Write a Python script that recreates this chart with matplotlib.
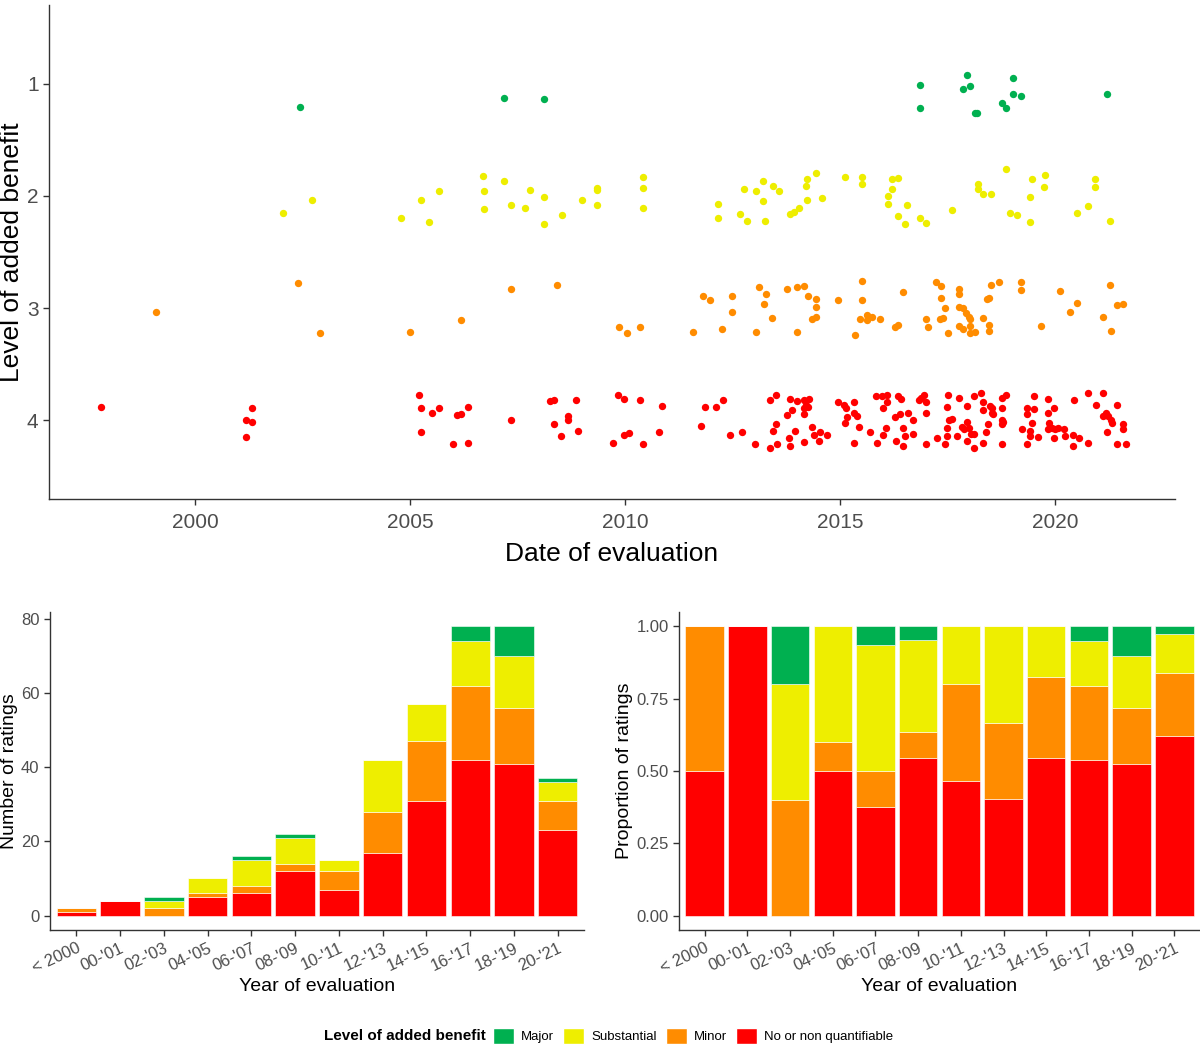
import matplotlib
matplotlib.use('Agg')
import matplotlib.pyplot as plt
from matplotlib.patches import Patch
import numpy as np

plt.rcParams['font.family'] = ['Liberation Sans', 'DejaVu Sans']

level_names = ['Major', 'Substantial', 'Minor', 'No or non quantifiable']
level_colors = ['#00B050', '#EEEE00', '#FF8C00', '#FF0000']

# top panel: date of evaluation (decimal year) and jittered level
green_dates = [2002.43, 2007.19, 2008.12, 2016.85, 2016.85, 2017.95, 2018.01, 2017.85, 2018.12, 2018.18,
               2019.01, 2019.01, 2019.20, 2018.75, 2018.85, 2021.20]
green_levels = [1.21, 1.13, 1.14, 1.01, 1.22, 0.92, 1.02, 1.05, 1.26, 1.26,
                0.95, 1.09, 1.11, 1.17, 1.22, 1.09]

yellow_dates = [2002.03, 2002.71, 2004.78, 2005.25, 2005.44, 2005.66, 2006.68, 2006.72, 2006.72, 2007.19,
                2007.34, 2007.66, 2007.78, 2008.10, 2008.10, 2008.53, 2009.00, 2009.34, 2009.34, 2009.34,
                2010.40, 2010.40, 2010.40, 2012.16, 2012.16, 2012.67, 2012.76, 2012.82, 2013.04, 2013.19,
                2013.19, 2013.25, 2013.44, 2013.57, 2013.82, 2013.91, 2014.04, 2014.19, 2014.23, 2014.23,
                2014.44, 2014.57, 2015.10, 2015.51, 2015.51, 2016.10, 2016.10, 2016.19, 2016.19, 2016.35,
                2016.35, 2016.51, 2016.54, 2016.85, 2017.00, 2017.60, 2018.19, 2018.19, 2018.32, 2018.51,
                2018.85, 2018.94, 2019.10, 2019.41, 2019.45, 2019.41, 2019.73, 2019.76, 2020.51, 2020.76,
                2020.92, 2020.92, 2021.26]
yellow_levels = [2.15, 2.04, 2.20, 2.04, 2.23, 1.96, 1.82, 1.96, 2.12, 1.87,
                 2.08, 2.11, 1.95, 2.01, 2.25, 2.17, 2.04, 1.93, 1.95, 2.08,
                 1.83, 1.93, 2.11, 2.07, 2.20, 2.16, 1.94, 2.22, 1.96, 1.87,
                 2.05, 2.22, 1.91, 1.96, 2.16, 2.14, 2.11, 1.91, 1.85, 2.04,
                 1.80, 2.02, 1.83, 1.83, 1.89, 2.00, 2.07, 1.85, 1.94, 1.84,
                 2.18, 2.25, 2.08, 2.20, 2.24, 2.13, 1.89, 1.94, 1.98, 1.98,
                 1.76, 2.15, 2.17, 2.01, 1.85, 2.23, 1.92, 1.81, 2.15, 2.09,
                 1.85, 1.92, 2.22]

orange_dates = [1999.09, 2002.40, 2002.90, 2005.00, 2006.19, 2007.34, 2008.41, 2009.85, 2010.03, 2010.34,
                2011.57, 2011.81, 2011.98, 2012.25, 2012.47, 2012.47, 2013.04, 2013.10, 2013.22, 2013.28,
                2013.41, 2013.75, 2013.98, 2013.98, 2014.16, 2014.25, 2014.44, 2014.44, 2014.44, 2014.35,
                2014.94, 2015.51, 2015.51, 2015.35, 2015.45, 2015.61, 2015.61, 2015.74, 2015.92, 2016.45,
                2016.26, 2016.35, 2017.00, 2017.04, 2017.22, 2017.35, 2017.35, 2017.44, 2017.31, 2017.39,
                2017.50, 2017.76, 2017.76, 2017.76, 2017.86, 2017.92, 2017.98, 2018.01, 2017.76, 2017.86,
                2018.01, 2018.01, 2018.13, 2018.32, 2018.41, 2018.46, 2018.45, 2018.45, 2018.51, 2018.69,
                2019.20, 2019.20, 2019.67, 2020.10, 2020.35, 2020.51, 2021.10, 2021.26, 2021.29, 2021.44,
                2021.57]
orange_levels = [3.03, 2.78, 3.22, 3.21, 3.11, 2.83, 2.79, 3.17, 3.22, 3.17,
                 3.21, 2.89, 2.93, 3.19, 2.89, 3.03, 3.21, 2.81, 2.96, 2.87,
                 3.09, 2.83, 2.81, 3.21, 2.80, 2.89, 2.92, 2.99, 3.08, 3.10,
                 2.93, 2.76, 2.93, 3.24, 3.10, 3.06, 3.11, 3.08, 3.10, 2.86,
                 3.17, 3.15, 3.10, 3.17, 2.77, 2.80, 2.91, 3.00, 3.10, 3.09,
                 3.22, 2.83, 2.87, 2.99, 3.00, 3.04, 3.08, 3.10, 3.16, 3.19,
                 3.16, 3.22, 3.21, 3.09, 2.92, 2.91, 3.15, 3.20, 2.79, 2.77,
                 2.77, 2.84, 3.16, 2.85, 3.03, 2.95, 3.08, 2.79, 3.20, 2.97,
                 2.96]

red_dates = [1997.81, 2001.19, 2001.31, 2001.31, 2001.19, 2005.21, 2005.25, 2005.25, 2005.50, 2005.66,
             2006.00, 2006.09, 2006.19, 2006.34, 2006.34, 2007.34, 2008.25, 2008.35, 2008.85, 2008.34,
             2008.66, 2008.66, 2008.51, 2008.91, 2009.84, 2009.97, 2010.35, 2010.85, 2009.97, 2010.09,
             2009.72, 2010.41, 2010.78, 2011.75, 2011.85, 2012.10, 2012.26, 2012.44, 2012.72, 2013.01,
             2013.37, 2013.50, 2013.37, 2013.44, 2013.50, 2013.53, 2013.75, 2013.87, 2013.84, 2013.81,
             2013.84, 2013.94, 2014.00, 2014.16, 2014.28, 2014.19, 2014.25, 2014.16, 2014.16, 2014.16,
             2014.35, 2014.38, 2014.50, 2014.53, 2014.69, 2014.94, 2015.09, 2015.12, 2015.32, 2015.32,
             2015.38, 2015.16, 2015.10, 2015.44, 2015.32, 2015.69, 2015.85, 2015.83, 2015.96, 2016.08,
             2016.33, 2016.00, 2016.09, 2016.27, 2016.06, 2016.00, 2016.30, 2016.42, 2016.38, 2016.45,
             2016.51, 2016.45, 2016.57, 2016.70, 2016.70, 2016.82, 2016.88, 2016.94, 2017.00, 2017.00,
             2017.00, 2017.25, 2017.44, 2017.47, 2017.47, 2017.50, 2017.47, 2017.53, 2017.60, 2017.70,
             2017.76, 2017.82, 2017.88, 2017.94, 2018.00, 2018.03, 2017.94, 2018.10, 2017.94, 2018.10,
             2018.10, 2018.28, 2018.32, 2018.32, 2018.47, 2018.53, 2018.53, 2018.56, 2018.44, 2018.38,
             2018.32, 2018.75, 2018.85, 2018.75, 2018.75, 2018.79, 2018.75, 2018.75, 2019.23, 2019.35,
             2019.35, 2019.51, 2019.51, 2019.45, 2019.41, 2019.41, 2019.35, 2019.60, 2019.82, 2019.82,
             2019.97, 2019.85, 2019.82, 2019.91, 2020.00, 2020.06, 2019.97, 2020.19, 2020.22, 2020.41,
             2020.54, 2020.41, 2020.44, 2020.76, 2020.76, 2020.95, 2021.10, 2021.17, 2021.10, 2021.23,
             2021.29, 2021.32, 2021.20, 2021.44, 2021.57, 2021.57, 2021.44, 2021.63]
red_levels = [3.88, 4.00, 4.01, 3.89, 4.15, 3.77, 3.89, 4.10, 3.93, 3.89,
              4.21, 3.95, 3.94, 3.88, 4.20, 4.00, 3.83, 3.82, 3.82, 4.03,
              3.96, 4.00, 4.14, 4.09, 3.77, 3.81, 3.82, 3.87, 4.13, 4.11,
              4.20, 4.21, 4.10, 4.05, 3.88, 3.88, 3.82, 4.13, 4.10, 4.21,
              3.82, 3.77, 4.25, 4.09, 4.03, 4.21, 3.95, 3.91, 3.81, 4.16,
              4.23, 4.09, 3.83, 3.82, 3.81, 3.86, 3.88, 3.89, 3.94, 4.19,
              4.06, 4.13, 4.18, 4.10, 4.13, 3.84, 3.86, 3.89, 3.84, 3.93,
              3.96, 3.97, 4.02, 4.06, 4.20, 4.10, 4.20, 3.78, 3.78, 3.77,
              3.78, 3.89, 3.84, 3.97, 4.07, 4.13, 4.18, 3.81, 3.94, 4.07,
              4.14, 4.23, 3.93, 4.00, 4.12, 3.82, 3.80, 3.77, 3.84, 3.93,
              4.21, 4.16, 4.21, 4.14, 4.07, 3.77, 3.88, 4.00, 3.99, 4.14,
              3.80, 4.06, 4.08, 4.01, 4.07, 4.12, 4.18, 4.12, 3.87, 3.78,
              4.25, 3.76, 3.84, 3.91, 3.87, 3.89, 3.93, 3.94, 4.03, 4.10,
              4.20, 3.80, 3.77, 3.89, 4.00, 4.01, 4.03, 4.21, 4.08, 3.89,
              3.94, 3.78, 3.90, 4.02, 4.09, 4.14, 4.21, 4.15, 3.81, 3.93,
              3.89, 4.02, 4.08, 4.07, 4.08, 4.07, 4.16, 4.08, 4.14, 4.13,
              4.16, 4.23, 3.82, 3.76, 4.20, 3.86, 3.76, 3.93, 3.96, 3.96,
              4.00, 4.02, 4.10, 3.86, 4.03, 4.08, 4.21, 4.21]

# bottom panels: number of ratings per two-year period
year_groups = ["< 2000", "00-'01", "02-'03", "04-'05", "06-'07", "08-'09",
               "10-'11", "12-'13", "14-'15", "16-'17", "18-'19", "20-'21"]
count_red = [1, 4, 0, 5, 6, 12, 7, 17, 31, 42, 41, 23]
count_orange = [1, 0, 2, 1, 2, 2, 5, 11, 16, 20, 15, 8]
count_yellow = [0, 0, 2, 4, 7, 7, 3, 14, 10, 12, 14, 5]
count_green = [0, 0, 1, 0, 1, 1, 0, 0, 0, 4, 8, 1]

axis_col = '#333333'
text_col = '#4D4D4D'


def style_axes(ax, size):
    for s in ['top', 'right']:
        ax.spines[s].set_visible(False)
    for s in ['left', 'bottom']:
        ax.spines[s].set_color(axis_col)
        ax.spines[s].set_linewidth(1.0)
    ax.tick_params(colors=axis_col, labelcolor=text_col, labelsize=size, length=4, width=1)


fig = plt.figure(figsize=(12, 10.5), dpi=100)

# ---- top scatter
ax = fig.add_axes([49 / 1200, 1 - 499 / 1050, 1126 / 1200, 494 / 1050])
scatter_sets = [(green_dates, green_levels), (yellow_dates, yellow_levels),
                (orange_dates, orange_levels), (red_dates, red_levels)]
for (d, l), c in zip(scatter_sets, level_colors):
    ax.scatter(d, l, s=28, color=c, linewidths=0, zorder=3)
ax.set_xlim(1996.6, 2022.78)
ax.set_ylim(4.7, 0.3)
ax.set_xticks([2000, 2005, 2010, 2015, 2020])
ax.set_yticks([1, 2, 3, 4])
style_axes(ax, 15)
ax.tick_params(axis='x', pad=6)
ax.set_xlabel('Date of evaluation', fontsize=19, color='black')
ax.xaxis.set_label_coords(0.5, -0.087)
ax.set_ylabel('Level of added benefit', fontsize=19, color='black')
ax.yaxis.set_label_coords(-0.022, 0.5)

# ---- bottom left: counts
x = np.arange(len(year_groups))
stack = [count_red, count_orange, count_yellow, count_green]
stack_colors = level_colors[::-1]

axl = fig.add_axes([50 / 1200, 1 - 930 / 1050, 534 / 1200, 318 / 1050])
bottom = np.zeros(len(x))
for vals, c in zip(stack, stack_colors):
    axl.bar(x, vals, 0.9, bottom=bottom, color=c, edgecolor='white', linewidth=0.4)
    bottom += np.array(vals)
axl.set_xlim(-0.6, 11.6)
axl.set_ylim(-3.9, 81.9)
axl.set_yticks([0, 20, 40, 60, 80])
axl.set_xticks(x)
axl.set_xticklabels(year_groups, rotation=25, ha='right', va='top', rotation_mode='anchor')
style_axes(axl, 12)
axl.set_xlabel('Year of evaluation', fontsize=14, color='black')
axl.xaxis.set_label_coords(0.5, -0.15)
axl.set_ylabel('Number of ratings', fontsize=14, color='black')
axl.yaxis.set_label_coords(-0.06, 0.5)

# ---- bottom right: proportions
totals = np.sum(np.array(stack), axis=0)
axr = fig.add_axes([679 / 1200, 1 - 930 / 1050, 521 / 1200, 318 / 1050])
bottom = np.zeros(len(x))
for vals, c in zip(stack, stack_colors):
    prop = np.array(vals) / totals
    axr.bar(x, prop, 0.9, bottom=bottom, color=c, edgecolor='white', linewidth=0.4)
    bottom += prop
axr.set_xlim(-0.6, 11.6)
axr.set_ylim(-0.05, 1.05)
axr.set_yticks([0, 0.25, 0.5, 0.75, 1.0])
axr.set_yticklabels(['0.00', '0.25', '0.50', '0.75', '1.00'])
axr.set_xticks(x)
axr.set_xticklabels(year_groups, rotation=25, ha='right', va='top', rotation_mode='anchor')
style_axes(axr, 12)
axr.set_xlabel('Year of evaluation', fontsize=14, color='black')
axr.xaxis.set_label_coords(0.5, -0.15)
axr.set_ylabel('Proportion of ratings', fontsize=14, color='black')
axr.yaxis.set_label_coords(-0.088, 0.5)

# ---- legend
handles = [Patch(facecolor=c, edgecolor='white') for c in level_colors]
fig.text(486 / 1200, 1 - 1036 / 1050, 'Level of added benefit', ha='right', va='center',
         fontsize=11, fontweight='bold')
fig.legend(handles, level_names, loc='center', bbox_to_anchor=(693 / 1200, 1 - 1036 / 1050), ncol=4,
           frameon=False, fontsize=9.5, handlelength=1.6, handleheight=1.6, handletextpad=0.5,
           columnspacing=0.7, borderpad=0)

fig.savefig('out.png', dpi=100)
